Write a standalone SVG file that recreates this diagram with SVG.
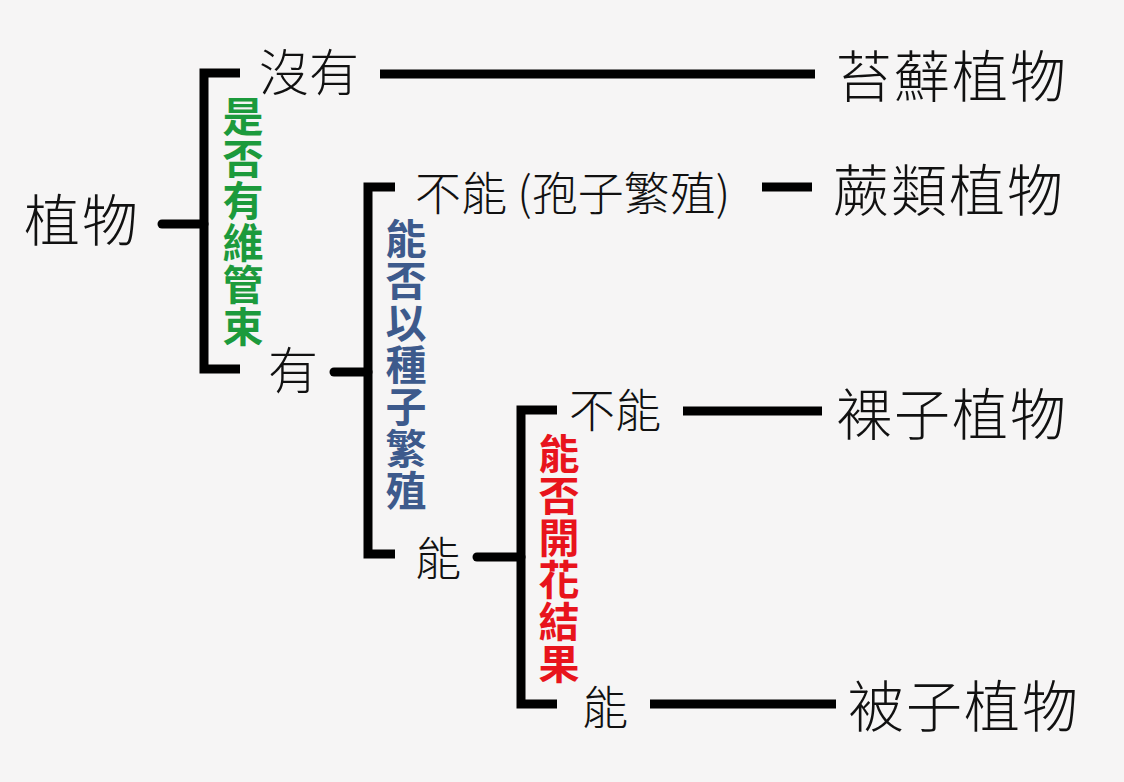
<svg xmlns="http://www.w3.org/2000/svg" width="1124" height="782" viewBox="0 0 1124 782">
<style>
.lbl{font-family:"Noto Sans CJK TC","Noto Sans CJK SC",sans-serif;font-weight:300;fill:#111;}
.big{font-size:56px;letter-spacing:2px;}
.mid{font-size:50px;}
.sm{font-size:46px;}
.q{font-family:"Noto Sans CJK TC","Noto Sans CJK SC",sans-serif;font-size:41px;font-weight:bold;text-anchor:middle;}
.ln{fill:none;stroke:#000;stroke-width:9;}
.stub{fill:none;stroke:#000;stroke-width:9;stroke-linecap:round;}
</style>
<rect width="1124" height="782" fill="#f6f5f5"/>
<g id="connectors">
<path class="stub" d="M162,224 H204"/>
<path class="ln" d="M240,73 H204 V369 H240"/>
<path class="ln" d="M380,74 H815"/>
<path class="stub" d="M334,372 H368"/>
<path class="ln" d="M395,187 H368 V554 H395"/>
<path class="ln" d="M762,187 H812"/>
<path class="stub" d="M477,557 H521"/>
<path class="ln" d="M557,410 H521 V704 H557"/>
<path class="ln" d="M683,411 H822"/>
<path class="ln" d="M650,704 H836"/>
</g>
<g id="n-plant"><text class="lbl big" x="24" y="241">植物</text></g>
<g id="q-vascular"><text class="q" fill="#1c9a3c" x="243" y="132"><tspan x="243">是</tspan><tspan x="243" dy="42">否</tspan><tspan x="243" dy="42">有</tspan><tspan x="243" dy="42">維</tspan><tspan x="243" dy="42">管</tspan><tspan x="243" dy="42">束</tspan></text></g>
<g id="n-no1"><text class="lbl mid" x="259" y="91">沒有</text></g>
<g id="n-moss"><text class="lbl big" x="836" y="97">苔蘚植物</text></g>
<g id="n-yes1"><text class="lbl mid" x="268" y="389">有</text></g>
<g id="q-seed"><text class="q" fill="#3d5a8c" x="406" y="254"><tspan x="406">能</tspan><tspan x="406" dy="42">否</tspan><tspan x="406" dy="42">以</tspan><tspan x="406" dy="42">種</tspan><tspan x="406" dy="42">子</tspan><tspan x="406" dy="42">繁</tspan><tspan x="406" dy="42">殖</tspan></text></g>
<g id="n-no2"><text class="lbl sm" x="415" y="210">不能 (孢子繁殖)</text></g>
<g id="n-fern"><text class="lbl big" x="833" y="211">蕨類植物</text></g>
<g id="n-yes2"><text class="lbl sm" x="415" y="575">能</text></g>
<g id="q-flower"><text class="q" fill="#e8141c" x="559" y="469"><tspan x="559">能</tspan><tspan x="559" dy="42">否</tspan><tspan x="559" dy="42">開</tspan><tspan x="559" dy="42">花</tspan><tspan x="559" dy="42">結</tspan><tspan x="559" dy="42">果</tspan></text></g>
<g id="n-no3"><text class="lbl sm" x="569" y="427">不能</text></g>
<g id="n-gymno"><text class="lbl big" x="836" y="435">裸子植物</text></g>
<g id="n-yes3"><text class="lbl sm" x="582" y="724">能</text></g>
<g id="n-angio"><text class="lbl big" x="848" y="727">被子植物</text></g>
</svg>
